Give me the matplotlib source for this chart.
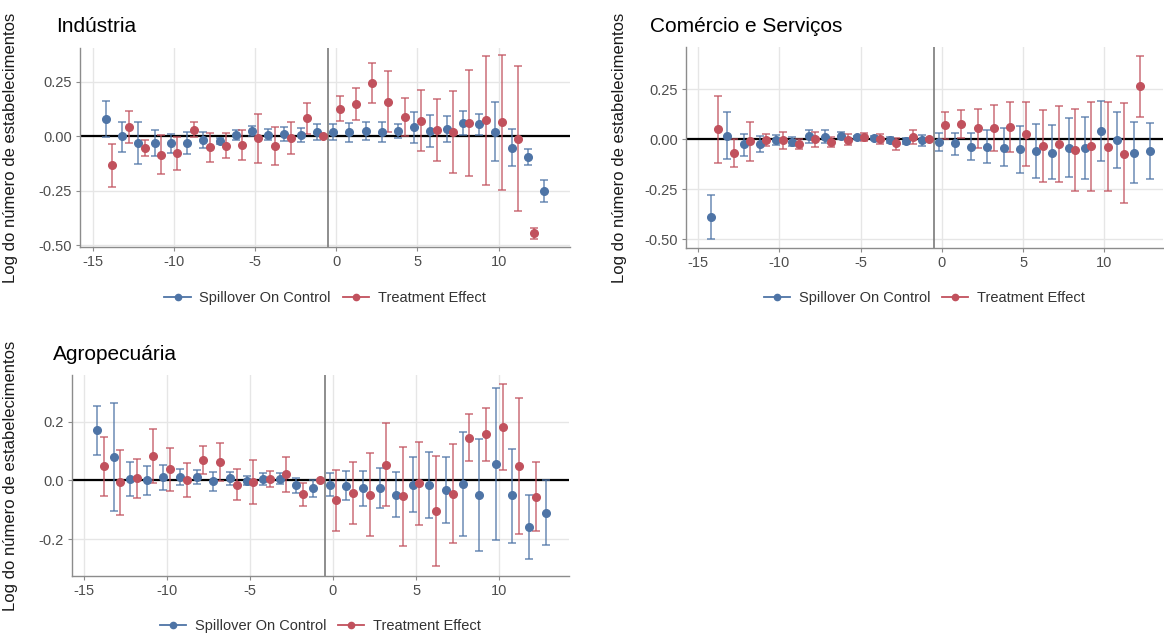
import numpy as np
import matplotlib
matplotlib.use('Agg')
from matplotlib import pyplot as plt
from matplotlib.lines import Line2D

plt.rcParams['font.family'] = ['Liberation Sans', 'DejaVu Sans']
plt.rcParams['axes.unicode_minus'] = False

nan = np.nan
blueTimes = np.arange(-14, 14)
redTimes = np.arange(-14, 13)
seriesNames = ['Spillover On Control', 'Treatment Effect']
yLabel = 'Log do número de estabelecimentos'

# Indústria
indTitle = 'Indústria'
indBlue = [0.08, 0.0, -0.031, -0.031, -0.031, -0.031, -0.017, -0.021, 0.008, 0.023, 0.008, 0.012, 0.006, 0.021,
           0.02, 0.018, 0.025, 0.02, 0.023, 0.041, 0.026, 0.035, 0.06, 0.057, 0.021, -0.052, -0.095, -0.252]
indBlueLo = [-0.005, -0.07, -0.126, -0.092, -0.074, -0.08, -0.055, -0.034, -0.015, 0.0, -0.018, -0.021, -0.026, -0.017,
             -0.017, -0.026, -0.015, -0.025, -0.008, -0.029, -0.048, -0.026, 0.005, 0.008, -0.115, -0.138, -0.132, -0.302]
indBlueHi = [0.164, 0.066, 0.064, 0.029, 0.009, 0.018, 0.018, -0.009, 0.031, 0.046, 0.032, 0.044, 0.038, 0.058,
             0.057, 0.061, 0.066, 0.064, 0.055, 0.112, 0.1, 0.095, 0.115, 0.104, 0.156, 0.035, -0.06, -0.2]
indRed = [-0.132, 0.043, -0.052, -0.084, -0.078, 0.029, -0.05, -0.043, -0.041, -0.009, -0.046, -0.006, 0.083, 0.0,
          0.127, 0.149, 0.244, 0.158, 0.087, 0.071, 0.031, 0.018, 0.06, 0.074, 0.064, -0.011, -0.445]
indRedLo = [-0.232, -0.031, -0.09, -0.173, -0.153, -0.005, -0.117, -0.101, -0.11, -0.121, -0.133, -0.081, 0.009, nan,
            0.069, 0.075, 0.153, 0.018, 0.0, -0.069, -0.115, -0.17, -0.18, -0.224, -0.245, -0.344, -0.471]
indRedHi = [-0.034, 0.115, -0.017, 0.005, -0.005, 0.067, 0.015, 0.014, 0.028, 0.103, 0.043, 0.067, 0.153, nan,
            0.187, 0.222, 0.334, 0.299, 0.178, 0.212, 0.172, 0.209, 0.302, 0.368, 0.373, 0.322, -0.419]

# Comércio e Serviços
comTitle = 'Comércio e Serviços'
comBlue = [-0.388, 0.015, -0.027, -0.023, -0.005, -0.013, 0.013, 0.012, 0.017, 0.008, 0.005, -0.003, -0.008, -0.003,
           -0.013, -0.022, -0.038, -0.038, -0.042, -0.05, -0.06, -0.067, -0.042, -0.045, 0.04, -0.005, -0.068, -0.06]
comBlueLo = [-0.499, -0.1, -0.082, -0.062, -0.03, -0.035, -0.02, -0.02, 0.0, 0.0, -0.006, -0.018, -0.027, -0.037,
             -0.06, -0.077, -0.106, -0.118, -0.135, -0.17, -0.195, -0.201, -0.188, -0.2, -0.111, -0.146, -0.221, -0.201]
comBlueHi = [-0.278, 0.133, 0.027, 0.013, 0.02, 0.01, 0.047, 0.045, 0.035, 0.015, 0.015, 0.01, 0.007, 0.022,
             0.03, 0.032, 0.03, 0.043, 0.053, 0.067, 0.077, 0.07, 0.105, 0.111, 0.191, 0.136, 0.085, 0.082]
comRed = [0.048, -0.067, -0.012, -0.003, -0.007, -0.027, 0.0, -0.015, -0.003, 0.01, 0.0, -0.022, 0.01, 0.0,
          0.07, 0.077, 0.053, 0.057, 0.062, 0.027, -0.033, -0.025, -0.052, -0.035, -0.038, -0.072, 0.265]
comRedLo = [-0.118, -0.138, -0.108, -0.033, -0.05, -0.05, -0.038, -0.04, -0.03, -0.008, -0.023, -0.052, -0.023, nan,
            0.002, 0.005, -0.043, -0.06, -0.062, -0.133, -0.213, -0.216, -0.258, -0.258, -0.258, -0.321, 0.111]
comRedHi = [0.215, 0.0, 0.085, 0.025, 0.035, -0.002, 0.037, 0.012, 0.025, 0.03, 0.023, 0.007, 0.045, nan,
            0.135, 0.145, 0.15, 0.171, 0.185, 0.183, 0.146, 0.166, 0.151, 0.186, 0.183, 0.178, 0.416]

# Agropecuária
agrTitle = 'Agropecuária'
agrBlue = [0.17, 0.079, 0.006, 0.0, 0.01, 0.011, 0.011, -0.001, 0.009, -0.001, 0.005, 0.005, -0.017, -0.027,
           -0.016, -0.018, -0.027, -0.025, -0.05, -0.015, -0.017, -0.034, -0.014, -0.05, 0.055, -0.051, -0.159, -0.11]
agrBlueLo = [0.085, -0.104, -0.052, -0.05, -0.034, -0.016, -0.014, -0.035, -0.015, -0.016, -0.015, -0.012, -0.042, -0.058,
             -0.055, -0.067, -0.087, -0.093, -0.126, -0.109, -0.129, -0.147, -0.19, -0.241, -0.203, -0.212, -0.268, -0.22]
agrBlueHi = [0.254, 0.263, 0.063, 0.05, 0.052, 0.04, 0.035, 0.029, 0.029, 0.015, 0.024, 0.024, 0.008, 0.0,
             0.025, 0.032, 0.033, 0.043, 0.027, 0.079, 0.096, 0.078, 0.164, 0.142, 0.315, 0.108, -0.05, 0.0]
agrRed = [0.048, -0.005, 0.007, 0.083, 0.037, 0.0, 0.069, 0.061, -0.015, -0.005, 0.006, 0.02, -0.046, 0.0,
          -0.068, -0.043, -0.049, 0.053, -0.054, -0.01, -0.103, -0.046, 0.146, 0.157, 0.181, 0.048, -0.057]
agrRedLo = [-0.053, -0.117, -0.059, -0.01, -0.035, -0.057, 0.022, -0.003, -0.067, -0.08, -0.022, -0.039, -0.089, nan,
            -0.172, -0.148, -0.19, -0.089, -0.223, -0.151, -0.293, -0.215, 0.065, 0.067, 0.035, -0.183, -0.174]
agrRedHi = [0.149, 0.105, 0.074, 0.176, 0.11, 0.058, 0.117, 0.126, 0.039, 0.071, 0.033, 0.08, -0.01, nan,
            0.034, 0.061, 0.093, 0.195, 0.113, 0.13, 0.084, 0.123, 0.226, 0.248, 0.327, 0.28, 0.061]

blueColor = '#4e74a6'
redColor = '#c1515d'
W, H = 1164, 634

fig = plt.figure()
fig.set_dpi(100)
fig.set_size_inches(W / 100, H / 100)


def makeAxes(x0, x1, y0, y1):
    return fig.add_axes([x0 / W, 1 - y1 / H, (x1 - x0) / W, (y1 - y0) / H])


def drawPanel(ax, title, blue, blueLo, blueHi, red, redLo, redHi, xlim, ylim, yticks, ytickLabels,
              titleXY, labelX, legendY):
    ax.set_xlim(xlim)
    ax.set_ylim(ylim)
    ax.set_xticks([-15, -10, -5, 0, 5, 10])
    ax.set_xticklabels(['-15', '-10', '-5', '0', '5', '10'])
    ax.set_yticks(yticks)
    ax.set_yticklabels(ytickLabels)
    ax.grid(True, color='#e6e6e6', linewidth=1.0)
    ax.set_axisbelow(True)
    for s in ['top', 'right']:
        ax.spines[s].set_visible(False)
    for s in ['left', 'bottom']:
        ax.spines[s].set_color('#8c8c8c')
        ax.spines[s].set_linewidth(1.0)
    ax.tick_params(colors='#8c8c8c', labelcolor='#4d4d4d', labelsize=10.5, length=3, pad=3)
    ax.axhline(0, color='black', linewidth=1.6, zorder=2)
    ax.axvline(-0.5, color='#7a7a7a', linewidth=1.2, zorder=2)

    for times, est, lo, hi, off, col in [(blueTimes, blue, blueLo, blueHi, -0.2, blueColor),
                                         (redTimes, red, redLo, redHi, 0.2, redColor)]:
        est = np.array(est)
        err = np.array([est - np.array(lo), np.array(hi) - est])
        xs = times + off
        ax.errorbar(xs, est, yerr=err, fmt='none', ecolor=col, alpha=0.7, elinewidth=1.3,
                    capsize=3, capthick=1.3, zorder=3)
        ax.plot(xs, est, 'o', color=col, markersize=5.5, zorder=4)

    fig.text(titleXY[0] / W, 1 - titleXY[1] / H, title, fontsize=15, ha='left', va='center', color='black')

    pos = ax.get_position()
    ax.set_ylabel(yLabel, fontsize=12, color='#1a1a1a')
    ax.yaxis.set_label_coords((labelX - pos.x0 * W) / (pos.width * W), 0.5)

    handles = [Line2D([0], [0], color=blueColor, marker='o', markersize=4.5, linewidth=1.3),
               Line2D([0], [0], color=redColor, marker='o', markersize=4.5, linewidth=1.3)]
    fig.legend(handles, seriesNames, loc='center', ncol=2, frameon=False, fontsize=10.5,
               bbox_to_anchor=((pos.x0 + pos.x1) / 2, 1 - legendY / H), handlelength=1.8,
               handletextpad=0.6, columnspacing=0.8, labelcolor='#333333')


ax1 = makeAxes(80, 570, 48, 247)
drawPanel(ax1, indTitle, indBlue, indBlueLo, indBlueHi, indRed, indRedLo, indRedHi,
          (-15.8, 14.4), (-0.507, 0.405), [-0.5, -0.25, 0, 0.25], ['-0.50', '-0.25', '0.00', '0.25'],
          (56, 26), 18, 298)

ax2 = makeAxes(686, 1163, 47, 248)
drawPanel(ax2, comTitle, comBlue, comBlueLo, comBlueHi, comRed, comRedLo, comRedHi,
          (-15.75, 13.6), (-0.544, 0.46), [-0.5, -0.25, 0, 0.25], ['-0.50', '-0.25', '0.00', '0.25'],
          (650, 26), 627, 298)

ax3 = makeAxes(72, 569, 375, 576)
drawPanel(ax3, agrTitle, agrBlue, agrBlueLo, agrBlueHi, agrRed, agrRedLo, agrRedHi,
          (-15.7, 14.2), (-0.326, 0.359), [-0.2, 0, 0.2], ['-0.2', '0.0', '0.2'],
          (53, 355), 18, 626)

fig.savefig('out.png', dpi=100)
